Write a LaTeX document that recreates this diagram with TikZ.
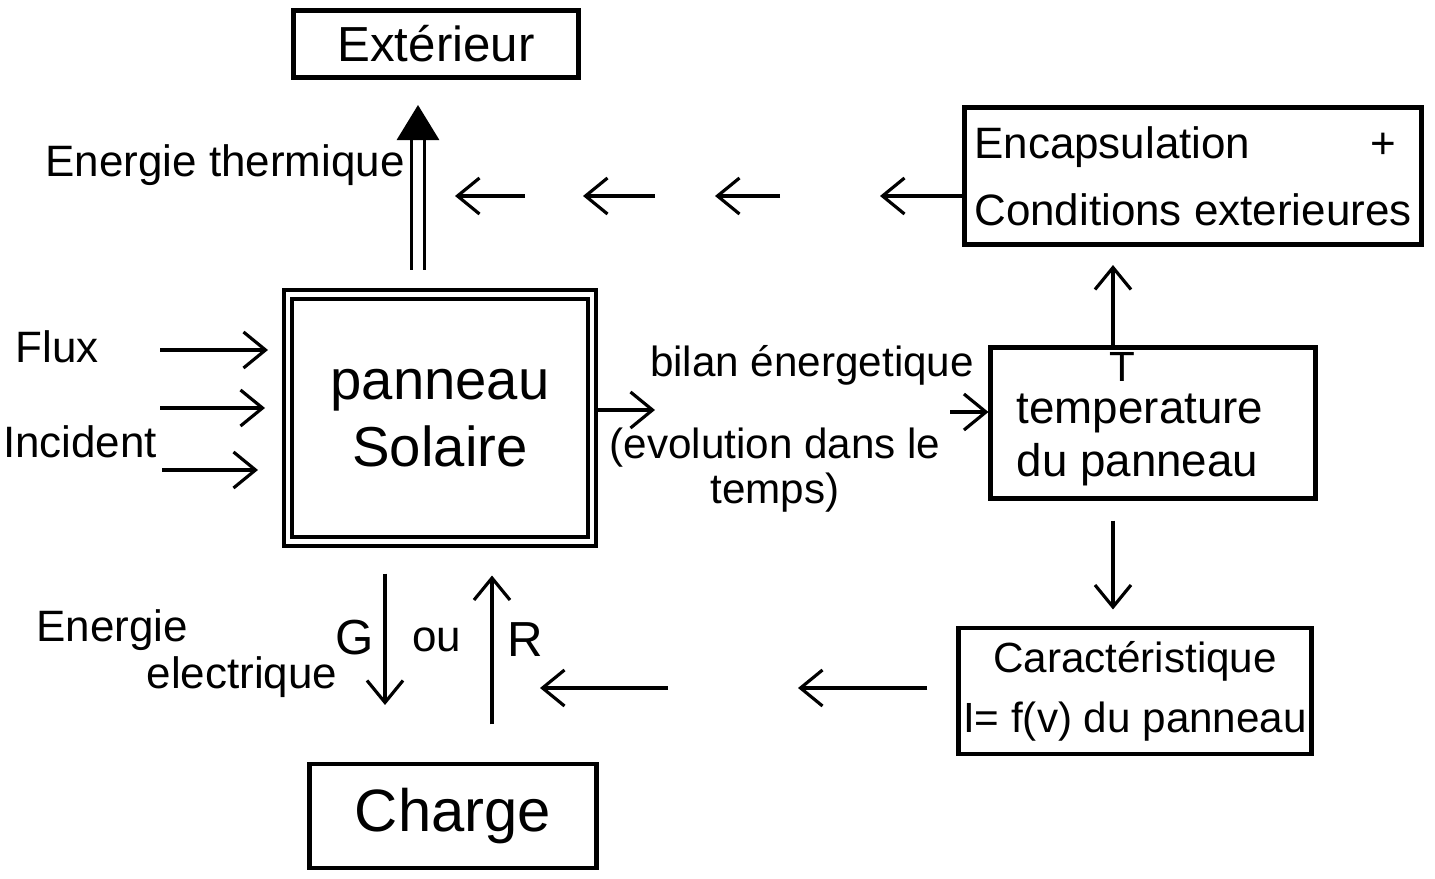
\documentclass[tikz,border=0pt]{standalone}
\usepackage{fontspec}
\setmainfont{Liberation Sans}
\usetikzlibrary{arrows.meta,positioning}

\begin{document}
\begin{tikzpicture}[x=0.01cm,y=-0.01cm,
  bloc/.style={draw=black,line width=1.4pt,align=center,inner sep=0pt},
  fl/.style={-{Straight Barb[length=2.2mm,width=3.6mm]},draw=black,line width=0.9pt},
  lbl/.style={align=left,inner sep=0pt,font=\fontsize{12.5}{16}\selectfont}]
\useasboundingbox (0,0) rectangle (1435,879);

\node[bloc,minimum width=2.85cm,minimum height=0.67cm,font=\fontsize{14}{18}\selectfont] (ext) at (436,44) {Extérieur};
\node[bloc,minimum width=4.56cm,minimum height=1.37cm,align=left,font=\fontsize{12.5}{19}\selectfont] (encap) at (1193,176) {Encapsulation\hspace{1.2cm}+\\Conditions exterieures};
\node[bloc,minimum width=3.04cm,minimum height=2.47cm,line width=1.1pt,double,double distance=0.45mm,font=\fontsize{16}{19}\selectfont] (panneau) at (440,418) {panneau\\Solaire};
\node[bloc,minimum width=3.24cm,minimum height=1.50cm] (temp) at (1153,423) {};
\node[lbl,font=\fontsize{12}{14}\selectfont] (tT) at (1122,367) {T};
\node[lbl,font=\fontsize{13}{15}\selectfont] (tlab) at (1140,440) {temperature\\du panneau};
\node[bloc,minimum width=3.52cm,minimum height=1.26cm,font=\fontsize{12}{17}\selectfont] (carac) at (1135,691) {Caractéristique\\I= f(v) du panneau};
\node[bloc,minimum width=2.87cm,minimum height=1.04cm,font=\fontsize{17}{20}\selectfont] (charge) at (453,816) {Charge};

\node[lbl] (eth) at (225,165) {Energie thermique};
\node[lbl] (flux) at (57,347) {Flux};
\node[lbl] (inc) at (80,442) {Incident};
\node[lbl] (enr) at (112,630) {Energie};
\node[lbl] (elec) at (242,677) {electrique};
\node[lbl,font=\fontsize{14}{16}\selectfont] (g) at (355,638) {G};
\node[lbl] (ou) at (437,640) {ou};
\node[lbl,font=\fontsize{14}{16}\selectfont] (r) at (525,640) {R};
\node[lbl,font=\fontsize{12}{15}\selectfont] (bil) at (812,365) {bilan énergetique};
\node[lbl,font=\fontsize{12}{13}\selectfont,align=center] (evo) at (775,470) {(evolution dans le\\temps)};

% energie thermique vers l'exterieur
\coordinate (thb) at (418,270);
\coordinate (tht) at (418,105);
\draw[line width=0.9pt,double,double distance=2.6pt,-{Triangle[length=3.5mm,width=4.2mm]}] (thb) -- (tht);

% fleches de gauche
\coordinate (h1) at (880,196);
\draw[fl] (encap.west |- h1) -- (h1);
\foreach \a/\b [count=\i] in {780/715,655/583,525/455} {
  \coordinate (ga\i) at (\a,196);
  \coordinate (gb\i) at (\b,196);
  \draw[fl] (ga\i) -- (gb\i);
}

% flux incident
\foreach \y/\a/\b [count=\i] in {350/160/268,408/160/265,470/162/258} {
  \coordinate (fa\i) at (\a,\y);
  \coordinate (fb\i) at (\b,\y);
  \draw[fl] (fa\i) -- (fb\i);
}

\coordinate (bilt) at (655,410);
\draw[fl] (panneau.east |- bilt) -- (bilt);
\coordinate (tin) at (950,412);
\draw[fl] (tin) -- (temp.west |- tin);

\coordinate (vx) at (1113,0);
\draw[fl,shorten >=1.8mm] (temp.north -| vx) -- (encap.south -| vx);
\draw[fl,shorten <=2mm,shorten >=1.6mm] (temp.south -| vx) -- (carac.north -| vx);

\coordinate (ca) at (798,688);
\draw[fl,shorten <=2.9mm] (carac.west |- ca) -- (ca);
\coordinate (cb1) at (668,688);
\coordinate (cb2) at (540,688);
\draw[fl] (cb1) -- (cb2);

\coordinate (gx) at (385,705);
\draw[fl,shorten <=3mm] (panneau.south -| gx) -- (gx);
\coordinate (rx) at (492,0);
\draw[fl,shorten <=3.7mm,shorten >=3.2mm] (charge.north -| rx) -- (panneau.south -| rx);
\end{tikzpicture}
\end{document}
